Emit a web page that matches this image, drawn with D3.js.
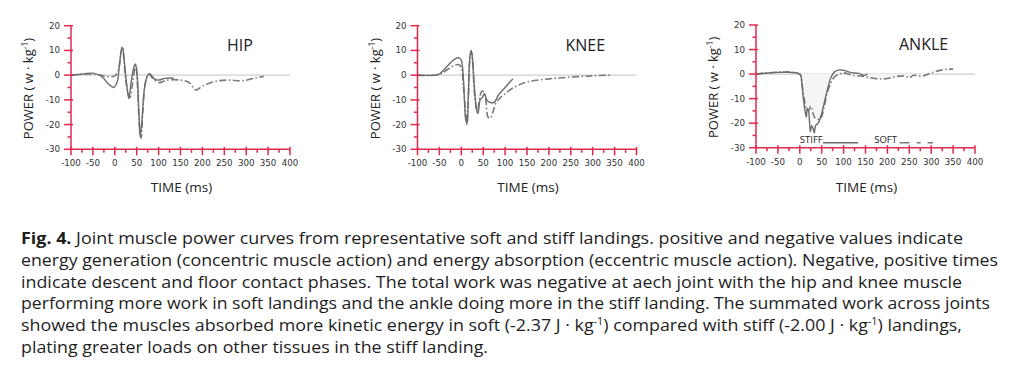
<!DOCTYPE html>
<html><head><meta charset="utf-8">
<script src="https://cdn.jsdelivr.net/npm/d3@7"></script>
<style>body{margin:0;background:#fff}svg{display:block}</style>
</head><body>
<svg id="c" width="1024" height="382"></svg>
<script>
// ---------- data ----------
const joints = ["HIP", "KNEE", "ANKLE"];
const xTickValues = [-100, -50, 0, 50, 100, 150, 200, 250, 300, 350, 400];
const yTickValues = [20, 10, 0, -10, -20, -30];
const legendLabels = ["STIFF", "SOFT"];

const hipStiffTime  = [-100,-70,-50,-30,-15,-3,5,10,15,18,22,28,32,38,44,47,51,55,58,62,68,75,80,90,100,115,135];
const hipStiffPower = [0,0.5,0.8,-0.5,-3.5,-5,-3,3,10,11,5,-5,-9.5,-2,3.5,4.5,0,-15,-25,-18,-5,0,0.5,-1.5,-2,-1.3,-1.2];
const hipSoftTime   = [-100,-60,-40,-20,0,8,14,17,20,25,30,35,40,45,48,52,56,60,64,70,78,85,100,120,150,170,185,200,230,260,290,320,340];
const hipSoftPower  = [0,0.5,0.3,-0.5,-0.3,2,9,11.5,8,-2,-7,-9,-4,2,4,-5,-20,-25.5,-15,-3,0.5,-1,-3,-2,-2,-3,-6,-4.5,-2.5,-2,-2.3,-1.2,-0.5];

const kneeStiffTime  = [-100,-60,-50,-30,-15,-5,0,5,10,13,16,20,23,26,30,35,38,43,48,53,58,65,75,85,100,110,118];
const kneeStiffPower = [0,0,0.5,4,6.5,7,6,-2,-18,-19.5,-8,8,10,5,-5,-14,-15.5,-10,-9,-7.5,-10,-11,-11,-8,-5,-3,-1.5];
const kneeSoftTime   = [-100,-50,-30,-15,-5,0,5,10,13,16,19,22,25,29,33,37,42,47,52,56,61,66,72,80,90,100,120,150,200,250,300,340];
const kneeSoftPower  = [0,0.3,2.5,4,4.2,3,-5,-15,-20,-10,5,9.5,8,-5,-12,-15,-9,-6.5,-7,-10,-17,-17.5,-15,-11,-9,-7.5,-5,-2.8,-1.5,-0.8,-0.3,0];

const ankleStiffTime  = [-100,0,4,8,12,15,17,20,24,27,30,33,36,42,50,58,65,72,80,90,100,110,120,135,145,155];
const ankleStiffPower = [0,0,-3,-10,-15,-17.5,-14,-15,-23.5,-21,-22,-24,-21,-20,-16,-10,-5,-1,1,1.7,1.5,1,0.5,0.3,-0.5,0];
const ankleSoftTime   = [-100,0,5,10,15,20,25,30,35,40,48,55,62,70,80,90,100,120,140,160,180,200,220,240,250,260,280,300,320,340,350];
const ankleSoftPower  = [0,0,-4,-10,-14,-15,-13,-16,-18,-18.5,-18,-14,-8,-4,-1,0,0.5,-0.5,-0.8,-1.5,-2,-1.8,-1,-0.8,-1.5,-0.5,-0.8,0.5,1.5,2,2];

const captionLines = [
  " Joint muscle power curves from representative soft and stiff landings. positive and negative values indicate",
  "energy generation (concentric muscle action) and energy absorption (eccentric muscle action). Negative, positive times",
  "indicate descent and floor contact phases. The total work was negative at aech joint with the hip and knee muscle",
  "performing more work in soft landings and the ankle doing more in the stiff landing. The summated work across joints",
  "showed the muscles absorbed more kinetic energy in soft (-2.37 J · kg|-1|) compared with stiff (-2.00 J · kg|-1|) landings,",
  "plating greater loads on other tissues in the stiff landing."
];
const captionLead = "Fig. 4.";

// ---------- layout ----------
const svg = d3.select("#c");
const AXIS = "#e2284c";
const panels = [
  {x0: 71,    x1: 290,   yT: 25.7, yB: 149.3, titleX: 227, titleY: 50.7,
   st: hipStiffTime, sp: hipStiffPower, ft: hipSoftTime, fp: hipSoftPower},
  {x0: 417.5, x1: 636.5, yT: 25.7, yB: 149.3, titleX: 565.5, titleY: 50.7,
   st: kneeStiffTime, sp: kneeStiffPower, ft: kneeSoftTime, fp: kneeSoftPower},
  {x0: 756,   x1: 975,   yT: 25,   yB: 147.7, titleX: 899, titleY: 49.5,
   st: ankleStiffTime, sp: ankleStiffPower, ft: ankleSoftTime, fp: ankleSoftPower, legend: true}
];
const softDash = "7,2.5,1.5,2.5";

panels.forEach((p, i) => {
  const x = d3.scaleLinear().domain([-100, 400]).range([p.x0, p.x1]);
  const y = d3.scaleLinear().domain([-30, 20]).range([p.yB, p.yT]);
  const g = svg.append("g");

  // zero line
  g.append("line").attr("x1", x(-100)).attr("x2", x(400)).attr("y1", y(0)).attr("y2", y(0))
    .attr("stroke", "#cfcfcf").attr("stroke-width", 1.4);

  const line = d3.line().x(d => x(d[0])).y(d => y(d[1])).curve(d3.curveCatmullRom.alpha(0.5));
  const stiff = p.st.map((t, k) => [t, p.sp[k]]);
  const soft = p.ft.map((t, k) => [t, p.fp[k]]);

  if (p.legend) {
    const area = d3.area().x(d => x(d[0])).y0(y(0)).y1(d => y(Math.min(0, d[1]))).curve(d3.curveCatmullRom.alpha(0.5));
    g.append("path").attr("d", area(soft)).attr("fill", "#f5f5f5");
  }

  g.append("path").attr("d", line(soft)).attr("fill", "none")
    .attr("stroke", "#7a7a7a").attr("stroke-width", 1.6).attr("stroke-dasharray", softDash);
  g.append("path").attr("d", line(stiff)).attr("fill", "none")
    .attr("stroke", "#6c6c6c").attr("stroke-width", 1.4);

  // y axis
  const yMinor = d3.range(-30, 21, 5);
  g.append("line").attr("x1", p.x0).attr("x2", p.x0).attr("y1", y(20)).attr("y2", y(-30))
    .attr("stroke", AXIS).attr("stroke-width", 1.5);
  yMinor.forEach(v => {
    const major = v % 10 === 0;
    g.append("line").attr("x1", p.x0 - (major ? 7 : 3.5)).attr("x2", p.x0 + (major ? 2 : 0))
      .attr("y1", y(v)).attr("y2", y(v)).attr("stroke", AXIS).attr("stroke-width", 1.5);
  });
  yTickValues.forEach(v => {
    g.append("text").attr("x", p.x0 - 11).attr("y", y(v) + 3).attr("text-anchor", "end")
      .attr("font-family", "DejaVu Sans").attr("font-size", 8.7).attr("fill", "#333").text(v);
  });

  // x axis
  const xMinor = d3.range(-100, 401, 25);
  g.append("line").attr("x1", x(-100)).attr("x2", x(400)).attr("y1", y(-30)).attr("y2", y(-30))
    .attr("stroke", AXIS).attr("stroke-width", 1.5);
  xMinor.forEach(v => {
    const major = v % 50 === 0;
    g.append("line").attr("x1", x(v)).attr("x2", x(v)).attr("y1", y(-30) - (major ? 2.5 : 0))
      .attr("y2", y(-30) + (major ? 6 : 3.5)).attr("stroke", AXIS).attr("stroke-width", 1.5);
  });
  xTickValues.forEach(v => {
    g.append("text").attr("x", x(v)).attr("y", y(-30) + 17).attr("text-anchor", "middle")
      .attr("font-family", "DejaVu Sans").attr("font-size", 8.7).attr("fill", "#333").text(v);
  });

  // titles
  g.append("text").attr("x", p.titleX).attr("y", p.titleY).attr("font-family", "Open Sans")
    .attr("font-size", 16).attr("fill", "#222").text(joints[i]);
  g.append("text").attr("x", (p.x0 + p.x1) / 2 + 1).attr("y", 191.5).attr("text-anchor", "middle")
    .attr("font-family", "Open Sans").attr("font-size", 13.5).attr("fill", "#222").text("TIME (ms)");
  const yl = g.append("text").attr("transform", `translate(${p.x0 - 38},${(p.yT + p.yB) / 2 + 1}) rotate(-90)`)
    .attr("text-anchor", "middle").attr("font-family", "Open Sans").attr("font-size", 13).attr("fill", "#222");
  yl.append("tspan").text("POWER ( w · kg");
  yl.append("tspan").attr("dy", -5).attr("font-size", 8.5).text("-1");
  yl.append("tspan").attr("dy", 5).text(")");

  if (p.legend) {
    const ly = y(-28);
    g.append("text").attr("x", x(0)).attr("y", ly).attr("font-family", "Open Sans")
      .attr("font-size", 9.5).attr("fill", "#222").text(legendLabels[0]);
    g.append("line").attr("x1", x(53)).attr("x2", x(133)).attr("y1", ly).attr("y2", ly)
      .attr("stroke", "#6c6c6c").attr("stroke-width", 1.6);
    g.append("text").attr("x", x(170)).attr("y", ly).attr("font-family", "Open Sans")
      .attr("font-size", 9.5).attr("fill", "#222").text(legendLabels[1]);
    g.append("line").attr("x1", x(228)).attr("x2", x(304)).attr("y1", ly).attr("y2", ly)
      .attr("stroke", "#7a7a7a").attr("stroke-width", 1.6).attr("stroke-dasharray", "10,7,4,7");
  }
});

// ---------- caption ----------
const widths = [942, 977, 941, 969, 941, 467];
captionLines.forEach((ln, i) => {
  const t = svg.append("text").attr("x", 21).attr("y", 244 + i * 21.8)
    .attr("font-family", "Open Sans").attr("font-size", 16.5).attr("fill", "#1e1e1e")
    .attr("textLength", widths[i]).attr("lengthAdjust", "spacingAndGlyphs");
  if (i === 0) t.append("tspan").attr("font-weight", "bold").text(captionLead);
  const parts = ln.split("|");
  parts.forEach((s, k) => {
    if (k % 2 === 1) {
      t.append("tspan").attr("dy", -6).attr("font-size", 10).text(s);
    } else {
      const ts = t.append("tspan").text(s);
      if (k > 0) ts.attr("dy", 6);
    }
  });
});
</script>
</body></html>
